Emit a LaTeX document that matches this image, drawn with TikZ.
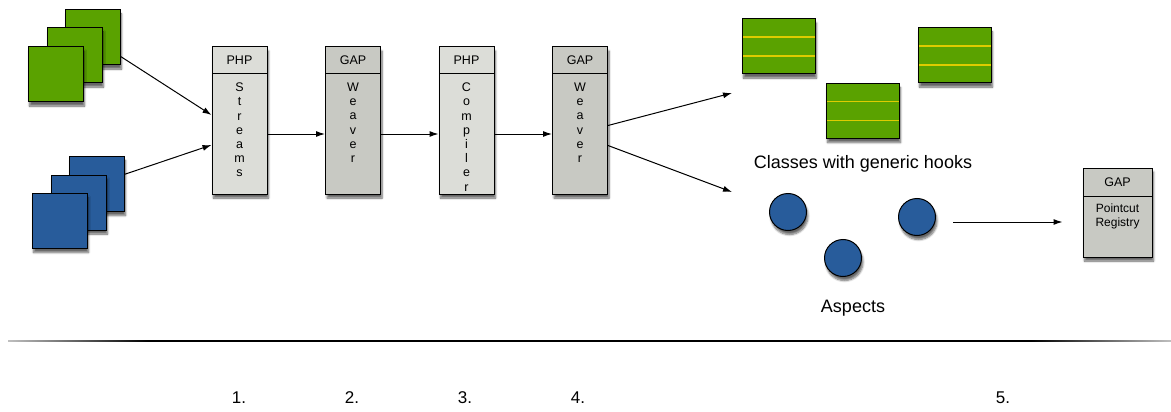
\documentclass[tikz,border=0pt]{standalone}
\usepackage{fontspec}
\setmainfont{Liberation Sans}
\usetikzlibrary{shadows.blur,arrows.meta}
\definecolor{leaf}{RGB}{90,162,0}
\definecolor{sea}{RGB}{40,92,155}
\definecolor{hook}{RGB}{222,204,0}
\definecolor{palegray}{RGB}{220,221,216}
\definecolor{darkgray}{RGB}{200,201,195}
\pgfdeclarehorizontalshading{rule}{100bp}{color(0bp)=(gray!50); color(25bp)=(gray!50);
  color(31bp)=(black); color(69bp)=(black); color(75bp)=(gray!50); color(100bp)=(gray!50)}

\begin{document}
\begin{tikzpicture}[x=1pt, y=-1pt, line width=1pt,
    soft/.style = {blur shadow={shadow xshift=1.5pt, shadow yshift=-4pt,
                   shadow blur steps=6, shadow opacity=60}},
    square/.style = {draw, minimum size=55pt, soft},
    stage/.style = {draw, minimum width=55pt, minimum height=147pt, soft},
    head/.style = {draw, minimum width=55pt, minimum height=27pt, anchor=north,
                   font=\fontsize{12.5}{14}\selectfont},
    body/.style = {anchor=north, align=center, inner sep=0pt,
                   font=\fontsize{12.5}{14.2}\selectfont},
    klass/.style = {draw, fill=leaf, minimum width=73pt, minimum height=55pt, soft,
                    path picture={
                      \draw[hook, line width=1.6pt] ([yshift=-18pt]path picture bounding box.north west)
                                  -- ([yshift=-18pt]path picture bounding box.north east);
                      \draw[hook, line width=1.6pt] ([yshift=-37pt]path picture bounding box.north west)
                                  -- ([yshift=-37pt]path picture bounding box.north east);}},
    aspect/.style = {circle, draw, fill=sea, minimum size=37pt, soft},
    label/.style = {font=\fontsize{18}{20}\selectfont},
    step no/.style = {font=\fontsize{17}{19}\selectfont},
    arrow/.style = {-{Latex[length=9pt,width=6pt]}}]
  \useasboundingbox (0,0) rectangle (1171,412);
  % inputs
  \node [square, fill=leaf] (g1) at (92.5,37.5) {};
  \node [square, fill=leaf] (g2) at (74.5,55.5) {};
  \node [square, fill=leaf] (g3) at (55.5,74.5) {};
  \node [square, fill=sea] (s1) at (96.5,184) {};
  \node [square, fill=sea] (s2) at (78.5,202.5) {};
  \node [square, fill=sea] (s3) at (59.5,221) {};
  % pipeline
  \node [stage, fill=palegray] (streams) at (239.5,120.5) {};
  \node [head, fill=palegray] (streams-h) at (streams.north) {PHP};
  \node [body] (streams-t) at ([yshift=-36pt]streams.north) {S\\t\\r\\e\\a\\m\\s};
  \node [stage, fill=darkgray] (weaver) at (353,120.5) {};
  \node [head, fill=darkgray] (weaver-h) at (weaver.north) {GAP};
  \node [body] (weaver-t) at ([yshift=-36pt]weaver.north) {W\\e\\a\\v\\e\\r};
  \node [stage, fill=palegray] (compiler) at (466.5,120.5) {};
  \node [head, fill=palegray] (compiler-h) at (compiler.north) {PHP};
  \node [body] (compiler-t) at ([yshift=-36pt]compiler.north) {C\\o\\m\\p\\i\\l\\e\\r};
  \node [stage, fill=darkgray] (weaver2) at (580,120.5) {};
  \node [head, fill=darkgray] (weaver2-h) at (weaver2.north) {GAP};
  \node [body] (weaver2-t) at ([yshift=-36pt]weaver2.north) {W\\e\\a\\v\\e\\r};
  % results
  \node [klass] (k1) at (778.5,46.5) {};
  \node [klass] (k2) at (862.5,111) {};
  \node [klass] (k3) at (954.5,55.5) {};
  \node [label] (classes) at (863,164) {Classes with generic hooks};
  \node [aspect] (a1) at (788,212) {};
  \node [aspect] (a2) at (843,258) {};
  \node [aspect] (a3) at (917,217) {};
  \node [label] (aspects) at (853,308) {Aspects};
  \node [stage, minimum width=69pt, minimum height=89pt, fill=darkgray] (registry) at (1117.5,212.5) {};
  \node [head, minimum width=69pt, minimum height=28pt, fill=darkgray] (registry-h) at (registry.north) {GAP};
  \node [body, font=\fontsize{12}{14}\selectfont] (registry-t) at ([yshift=-35.5pt]registry.north) {Pointcut\\Registry};
  \coordinate (to-classes) at (732,93);
  \coordinate (to-aspects) at (732,192);
  \coordinate (from-aspects) at (953,222);
  % connectors
  \draw [arrow] (g1.326) -- ([yshift=5.5pt]streams.west);
  \draw [arrow] (s1.19) -- ([yshift=-24.5pt]streams.west);
  \draw [arrow] ([yshift=-13.5pt]streams.east) -- ([yshift=-13.5pt]weaver.west);
  \draw [arrow] ([yshift=-13.5pt]weaver.east) -- ([yshift=-13.5pt]compiler.west);
  \draw [arrow] ([yshift=-13.5pt]compiler.east) -- ([yshift=-13.5pt]weaver2.west);
  \draw [arrow] ([yshift=-5pt]weaver2.east) -- (to-classes);
  \draw [arrow] ([yshift=-25pt]weaver2.east) -- (to-aspects);
  \draw [arrow] (from-aspects) -- ([xshift=-20pt,yshift=-9.5pt]registry.west);
  % steps
  \shade [shading=rule] (8,340.3) rectangle (1171,341.9);
  \node [step no] (n1) at (239,398) {1.};
  \node [step no] (n2) at (352,398) {2.};
  \node [step no] (n3) at (465,398) {3.};
  \node [step no] (n4) at (578,398) {4.};
  \node [step no] (n5) at (1003,398) {5.};
\end{tikzpicture}
\end{document}
